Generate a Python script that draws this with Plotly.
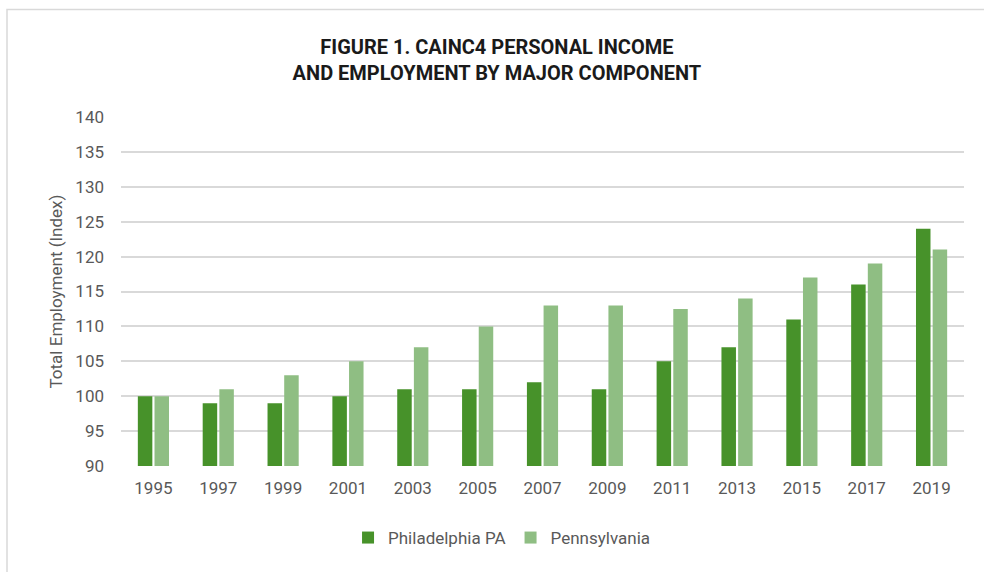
import plotly.graph_objects as go

years = ["1995", "1997", "1999", "2001", "2003", "2005", "2007", "2009", "2011", "2013", "2015", "2017", "2019"]
philadelphia = [100, 99, 99, 100, 101, 101, 102, 101, 105, 107, 111, 116, 124]
pennsylvania = [100, 101, 103, 105, 107, 110, 113, 113, 112.5, 114, 117, 119, 121]
y_ticks = [90, 95, 100, 105, 110, 115, 120, 125, 130, 135, 140]

W, H = 984, 572
L, R, T, B = 121, 20, 117, 106
pw, ph = W - L - R, H - T - B

fig = go.Figure()
fig.add_trace(go.Bar(x=years, y=philadelphia, name="Philadelphia PA",
                     marker=dict(color="#47922A", line=dict(width=0))))
fig.add_trace(go.Bar(x=years, y=pennsylvania, name="Pennsylvania",
                     marker=dict(color="#8FBE83", line=dict(width=0))))

def px_x(v):
    return (v - L) / pw

def px_y(v):
    return (H - B - v) / ph

fig.update_layout(
    width=W, height=H,
    margin=dict(l=L, r=R, t=T, b=B),
    paper_bgcolor="white", plot_bgcolor="white",
    barmode="group", bargap=0.486, bargroupgap=0.13,
    font=dict(family="Roboto, Arial, sans-serif", color="#595959"),
    title=dict(
        text="<b>FIGURE 1. CAINC4 PERSONAL INCOME<br>AND EMPLOYMENT BY MAJOR COMPONENT</b>",
        x=0.505, xanchor="center", y=1 - 54 / H, yanchor="middle",
        font=dict(size=20, color="#1a1a1a", family="Roboto, Arial, sans-serif"),
    ),
    xaxis=dict(
        showgrid=False, showline=False, zeroline=False, ticks="",
        ticklabelstandoff=10,
        tickfont=dict(size=17, color="#595959"),
    ),
    yaxis=dict(
        range=[90, 140], tickvals=y_ticks, ticktext=[str(v) for v in y_ticks],
        showgrid=True, gridcolor="#D9D9D9", gridwidth=1.5, zeroline=False,
        showline=False, ticks="", ticklabelstandoff=16,
        tickfont=dict(size=17, color="#595959"),
        title=dict(text="Total Employment (Index)", font=dict(size=17, color="#595959"), standoff=8),
    ),
    legend=dict(
        orientation="h", x=0.452, xanchor="center", y=px_y(538), yanchor="middle",
        font=dict(size=17, color="#595959"), itemwidth=30, traceorder="normal",
    ),
    shapes=[
        dict(type="rect", xref="paper", yref="paper",
             x0=px_x(7), x1=px_x(995), y0=px_y(585), y1=px_y(9.5),
             line=dict(color="#D9D9D9", width=1.5), fillcolor="rgba(0,0,0,0)", layer="below"),
    ],
)

fig.write_html("out.html")
